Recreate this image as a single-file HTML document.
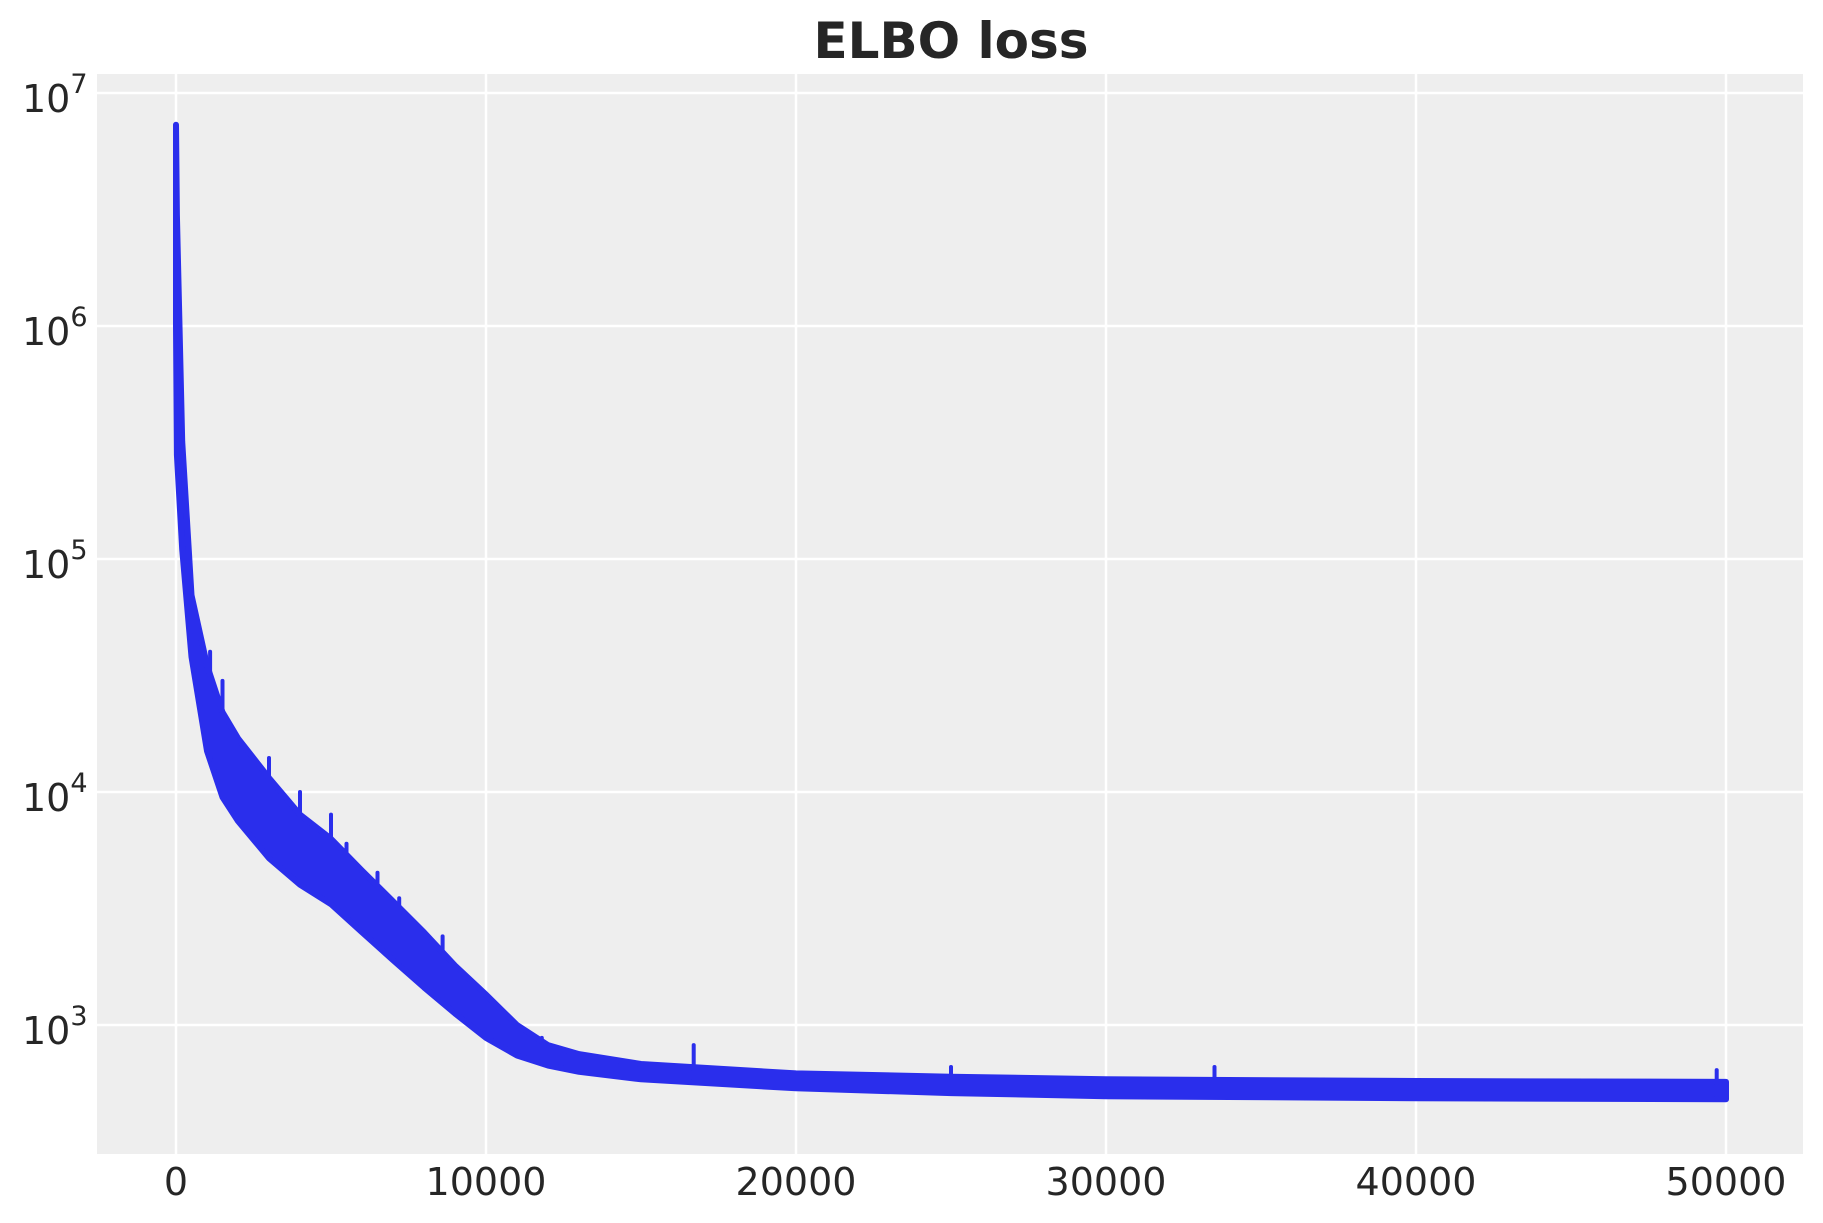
<!DOCTYPE html>
<html><head><meta charset="utf-8"><style>body{margin:0;background:#fff}svg{display:block}text{font-family:"DejaVu Sans","Liberation Sans",sans-serif;fill:#262626}</style></head>
<body>
<svg id="chart" width="1823" height="1223">
<rect x="97" y="74" width="1706" height="1080" fill="#eeeeee"/>
<g id="grid"></g>
<g id="series"></g>
<g id="ticks"></g>
<text x="951" y="58" text-anchor="middle" font-size="50" font-weight="bold">ELBO loss</text>
</svg>
<script>
const xTicks = [0, 10000, 20000, 30000, 40000, 50000];
const yTickExps = [3, 4, 5, 6, 7];
const envX = [0, 30, 200, 500, 1000, 1500, 2000, 3000, 4000, 5000, 6000, 7000, 8000, 9000, 10000, 11000, 12000, 13000, 15000, 20000, 25000, 30000, 40000, 50000];
const envUpper = [7300000, 3000000, 320000, 70000, 35000, 22000, 17000, 11500, 8000, 6300, 4600, 3400, 2500, 1800, 1350, 1000, 820, 750, 680, 620, 600, 585, 575, 570];
const envLower = [1000000, 280000, 110000, 38000, 15000, 9500, 7500, 5200, 4000, 3300, 2500, 1900, 1450, 1120, 880, 740, 670, 630, 585, 535, 510, 495, 485, 480];
const spikeX = [1100, 1500, 3000, 4000, 5000, 5500, 6500, 7200, 8600, 11800, 16700, 25000, 33500, 49700];
const spikeY = [40000, 30000, 14000, 10000, 8000, 6000, 4500, 3500, 2400, 880, 820, 660, 660, 640];

const X0 = 176, X1 = 1726, Y7 = 93, DEC = 233;
const sx = v => X0 + (X1 - X0) * v / 50000;
const sy = v => Y7 + (7 - Math.log10(v)) * DEC;
const NS = 'http://www.w3.org/2000/svg';
function mk(tag, attrs, parent) { const e = document.createElementNS(NS, tag); for (const k in attrs) e.setAttribute(k, attrs[k]); parent.appendChild(e); return e; }
const grid = document.getElementById('grid'), ticks = document.getElementById('ticks'), series = document.getElementById('series');
xTicks.forEach(t => {
  const l = mk('line', {x1: sx(t), x2: sx(t), y1: 74, y2: 1154, stroke: '#fff', 'stroke-width': 2.5}, grid);
  
  
  const tx = mk('text', {x: sx(t), y: 1195, 'text-anchor': 'middle', 'font-size': 38}, ticks);
  tx.textContent = t;
  
  
});
yTickExps.forEach(e => {
  const y = sy(Math.pow(10, e));
  const l = mk('line', {x1: 97, x2: 1803, y1: y, y2: y, stroke: '#fff', 'stroke-width': 2.5}, grid);
  
  
  const tx = mk('text', {x: 22, y: y + 19, 'font-size': 38}, ticks);
  tx.innerHTML = '10<tspan dy="-19" font-size="27">' + e + '</tspan>';
  
  
});
let d = '';
envX.forEach((x, i) => { d += (i ? 'L' : 'M') + sx(x).toFixed(1) + ' ' + sy(envUpper[i]).toFixed(1); });
for (let i = envX.length - 1; i >= 0; i--) d += 'L' + sx(envX[i]).toFixed(1) + ' ' + sy(envLower[i]).toFixed(1);
d += 'Z';
const band = mk('path', {d: d, fill: '#2a2eec', stroke: '#2a2eec', 'stroke-width': 6, 'stroke-linejoin': 'round'}, series);


function interpLower(x) {
  for (let i = 1; i < envX.length; i++) if (x <= envX[i]) { const f = (x - envX[i-1]) / (envX[i] - envX[i-1]); return Math.pow(10, Math.log10(envLower[i-1]) * (1 - f) + Math.log10(envLower[i]) * f); }
  return envLower[envLower.length - 1];
}
spikeX.forEach((x, i) => {
  const s = mk('line', {x1: sx(x), x2: sx(x), y1: sy(spikeY[i]), y2: sy(interpLower(x)), stroke: '#2a2eec', 'stroke-width': 4, 'stroke-linecap': 'round'}, series);
  
  
});
</script>
</body></html>
